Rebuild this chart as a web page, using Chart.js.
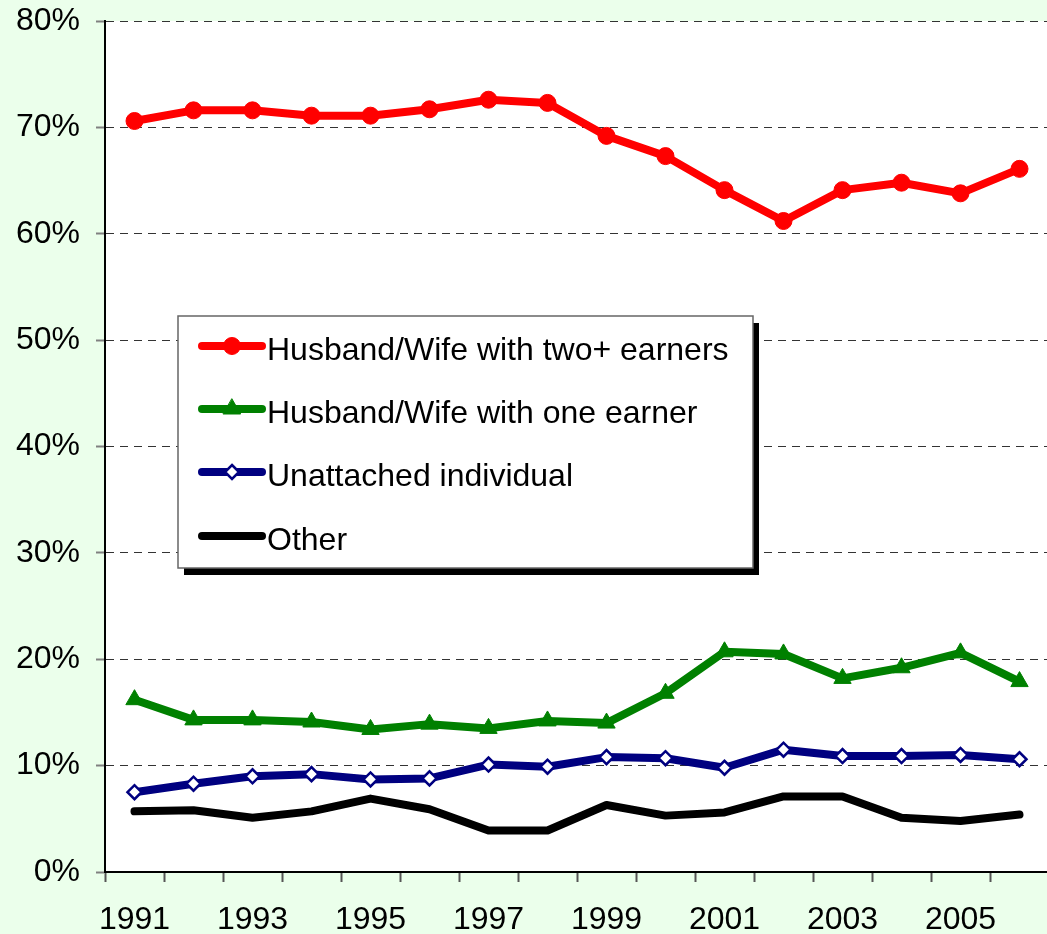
<!DOCTYPE html>
<html>
<head>
<meta charset="utf-8">
<script src="https://cdn.jsdelivr.net/npm/chart.js@4/dist/chart.umd.min.js"></script>
<style>
  html, body { margin: 0; padding: 0; overflow: hidden; background: #EBFFEB; }
  canvas { display: block; }
</style>
</head>
<body>
<canvas id="earnersChart" width="1060" height="934"></canvas>
<script>
const years = ['1991', '1992', '1993', '1994', '1995', '1996', '1997', '1998',
               '1999', '2000', '2001', '2002', '2003', '2004', '2005', '2006'];
const twoEarners = [70.6, 71.6, 71.6, 71.1, 71.1, 71.7, 72.6, 72.3, 69.2, 67.3, 64.1, 61.2, 64.1, 64.8, 63.8, 66.1];
const oneEarner  = [16.2, 14.3, 14.3, 14.1, 13.4, 13.9, 13.5, 14.2, 14.0, 16.8, 20.7, 20.5, 18.2, 19.2, 20.6, 17.9];
const unattached = [7.5, 8.3, 9.0, 9.2, 8.7, 8.8, 10.1, 9.9, 10.8, 10.7, 9.8, 11.5, 10.9, 10.9, 11.0, 10.6];
const other      = [5.7, 5.8, 5.1, 5.7, 6.9, 5.9, 3.9, 3.9, 6.3, 5.3, 5.6, 7.1, 7.1, 5.1, 4.8, 5.4];
const seriesNames = ['Husband/Wife with two+ earners', 'Husband/Wife with one earner', 'Unattached individual', 'Other'];
const yTicks = [0, 10, 20, 30, 40, 50, 60, 70, 80];

document.addEventListener('DOMContentLoaded', () => {
    Chart.defaults.font.family = "'Liberation Sans', Arial, sans-serif";
    Chart.defaults.color = '#000';

    // green page, white plot area
    const backgroundPlugin = {
        id: 'background',
        beforeDraw(chart) {
            const { ctx, chartArea } = chart;
            ctx.save();
            ctx.fillStyle = '#EBFFEB';
            ctx.fillRect(0, 0, chart.width, chart.height);
            ctx.fillStyle = '#FFFFFF';
            ctx.fillRect(chartArea.left, chartArea.top, chartArea.right - chartArea.left, chartArea.bottom - chartArea.top);
            ctx.restore();
        }
    };

    function drawMarker(ctx, ds, x, y) {
        const r = ds.pointRadius;
        if (!r) return;
        ctx.save();
        ctx.fillStyle = ds.pointBackgroundColor;
        ctx.strokeStyle = ds.pointBorderColor;
        ctx.lineWidth = ds.pointBorderWidth;
        ctx.beginPath();
        if (ds.pointStyle === 'circle') {
            ctx.arc(x, y, r, 0, Math.PI * 2);
        } else if (ds.pointStyle === 'triangle') {
            for (let k = 0; k < 3; k++) {
                const a = k * 2 * Math.PI / 3;
                const px = x + Math.sin(a) * r, py = y - Math.cos(a) * r;
                if (k === 0) ctx.moveTo(px, py); else ctx.lineTo(px, py);
            }
            ctx.closePath();
        } else {
            ctx.moveTo(x, y - r);
            ctx.lineTo(x + r, y);
            ctx.lineTo(x, y + r);
            ctx.lineTo(x - r, y);
            ctx.closePath();
        }
        ctx.fill();
        ctx.stroke();
        ctx.restore();
    }

    // boxed legend with shadow, placed inside the plot
    const boxLegendPlugin = {
        id: 'boxLegend',
        afterDraw(chart) {
            const { ctx } = chart;
            const bx = 178, by = 316, bw = 575, bh = 252;
            ctx.save();
            ctx.fillStyle = '#000';
            ctx.fillRect(bx + 6, by + 7, bw, bh);
            ctx.fillStyle = '#FFF';
            ctx.fillRect(bx, by, bw, bh);
            ctx.strokeStyle = '#666';
            ctx.lineWidth = 1.5;
            ctx.strokeRect(bx, by, bw, bh);

            const rows = [346, 409, 472, 536];
            chart.data.datasets.forEach((ds, i) => {
                const y = rows[i];
                ctx.strokeStyle = ds.borderColor;
                ctx.lineWidth = ds.borderWidth;
                ctx.lineCap = 'round';
                ctx.beginPath();
                ctx.moveTo(202, y);
                ctx.lineTo(262, y);
                ctx.stroke();
                drawMarker(ctx, ds, 232, y);
                ctx.fillStyle = '#000';
                ctx.font = "32px 'Liberation Sans', Arial, sans-serif";
                ctx.textBaseline = 'alphabetic';
                ctx.textAlign = 'left';
                ctx.fillText(ds.label, 267, y + 14);
            });
            ctx.restore();
        }
    };

    const lineStyle = {
        borderWidth: 8,
        tension: 0,
        borderCapStyle: 'round',
        borderJoinStyle: 'round',
        pointHoverRadius: 0
    };

    const ctx = document.getElementById('earnersChart').getContext('2d');
    new Chart(ctx, {
        type: 'line',
        data: {
            labels: years,
            datasets: [
                Object.assign({
                    label: seriesNames[0],
                    data: twoEarners,
                    borderColor: '#FF0000',
                    pointStyle: 'circle',
                    pointRadius: 8.5,
                    pointBackgroundColor: '#FF0000',
                    pointBorderColor: '#FF0000',
                    pointBorderWidth: 1
                }, lineStyle),
                Object.assign({
                    label: seriesNames[1],
                    data: oneEarner,
                    borderColor: '#008000',
                    pointStyle: 'triangle',
                    pointRadius: 10,
                    pointBackgroundColor: '#008000',
                    pointBorderColor: '#008000',
                    pointBorderWidth: 1
                }, lineStyle),
                Object.assign({
                    label: seriesNames[2],
                    data: unattached,
                    borderColor: '#000080',
                    pointStyle: 'rectRot',
                    pointRadius: 7,
                    pointBackgroundColor: '#FFFFFF',
                    pointBorderColor: '#000080',
                    pointBorderWidth: 2.5
                }, lineStyle),
                Object.assign({
                    label: seriesNames[3],
                    data: other,
                    borderColor: '#000000',
                    pointStyle: 'circle',
                    pointRadius: 0,
                    pointBackgroundColor: '#000000',
                    pointBorderColor: '#000000',
                    pointBorderWidth: 0
                }, lineStyle)
            ]
        },
        options: {
            responsive: false,
            animation: false,
            layout: { padding: { top: 21, right: 0, bottom: 0, left: 0 } },
            plugins: {
                legend: { display: false },
                tooltip: { enabled: false }
            },
            scales: {
                x: {
                    type: 'category',
                    offset: true,
                    grid: {
                        offset: true,
                        drawOnChartArea: false,
                        drawTicks: true,
                        tickLength: 10,
                        tickColor: '#555',
                        tickWidth: 2
                    },
                    border: { display: true, color: '#000', width: 2 },
                    ticks: {
                        autoSkip: false,
                        maxRotation: 0,
                        padding: 19,
                        font: { size: 32 },
                        color: '#000',
                        callback: (v, i) => (i % 2 === 0 ? years[i] : '')
                    },
                    afterFit: (scale) => {
                        scale.height = 62;
                        scale.paddingLeft = 0;
                        scale.paddingRight = 0;
                    }
                },
                y: {
                    min: yTicks[0],
                    max: yTicks[yTicks.length - 1],
                    afterBuildTicks: (scale) => { scale.ticks = yTicks.map(v => ({ value: v })); },
                    grid: {
                        color: '#333',
                        lineWidth: 1,
                        drawTicks: true,
                        tickLength: 9,
                        tickColor: '#808080',
                        tickWidth: 2,
                        tickBorderDash: []
                    },
                    border: { display: true, color: '#000', width: 2, dash: [8, 6] },
                    ticks: {
                        padding: 16,
                        font: { size: 32 },
                        color: '#000',
                        callback: (v) => v + '%'
                    },
                    afterFit: (scale) => {
                        scale.width = 105;
                        scale.paddingTop = 0;
                        scale.paddingBottom = 0;
                    }
                }
            }
        },
        plugins: [backgroundPlugin, boxLegendPlugin]
    });
});
</script>
</body>
</html>
